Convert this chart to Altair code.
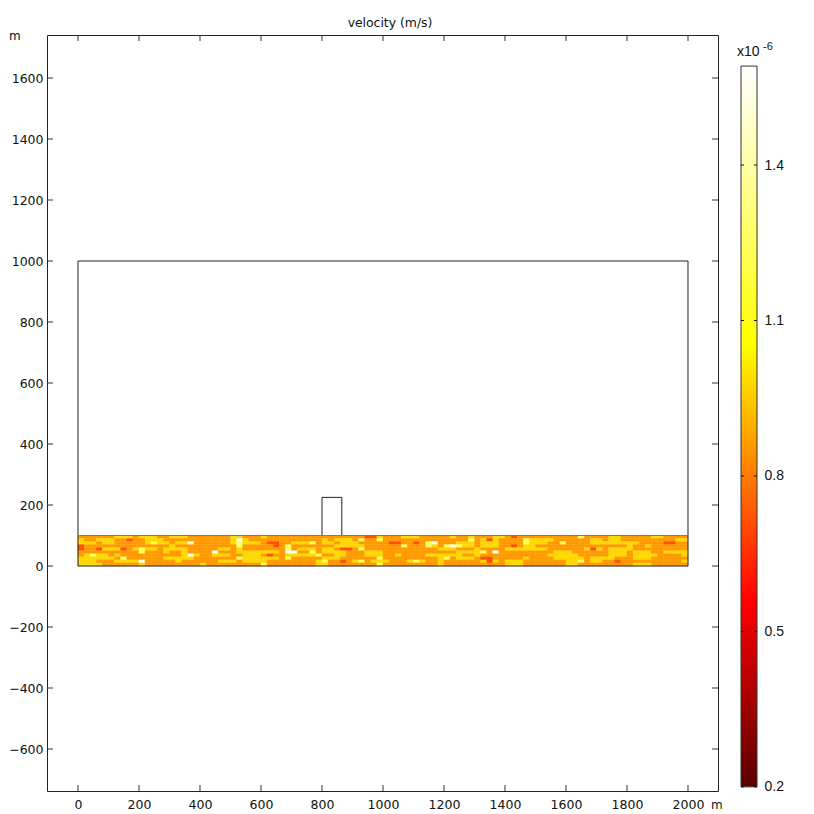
import altair as alt
import pandas as pd

X_TICKS = [0, 200, 400, 600, 800, 1000, 1200, 1400, 1600, 1800, 2000]
Y_TICKS = [-600, -400, -200, 0, 200, 400, 600, 800, 1000, 1200, 1400, 1600]
CB_TICKS = [0.2, 0.5, 0.8, 1.1, 1.4]
X_DOMAIN = [-101.6, 2098.4]
Y_DOMAIN = [-737.7, 1741]
CB_DOMAIN = [0.192, 1.651]
CB_RANGE = [0.2, 1.591]

STOP_VALUES = [0.2, 0.56, 1.053, 1.591]
STOP_COLORS = ["#5a0000", "#ff0000", "#ffff00", "#ffffff"]

LEVELS = {".": 0.856, "g": 0.978, "w": 1.25, "W": 1.55, "r": 0.71}
CELL_W = 20
CELL_H = 10

# top row first, 100 cells of 20 m, 10 rows of 10 m
BAND_ROWS = [
    "......ggg.ggg..ggg.." ".....gg...g........." ".......rrg...ggg...." ".g..g...gg.r........" "..w....gg.....gg....",
    "g..ggg..r..ggg......" ".....gWg............" "g.ggg.w..w.........." "....w.grg....wgggg.." "....gg.gg.........gg",
    "ggg.gg.....gwgg.ggW." ".....gwggg.rr..gggw." "gg.ggg.....rr..r.wW." "..ggg.ggg....wggg..w" "....gggggggg....rr..",
    "r..............g...." "......w.....r.w....." "..ggggg......w...wg." "wWwgg.ggg..r.gg....." "..........g..g......",
    "r..rgggr.gwgg.gggg.." "...gg.g.......w.ggg." "gg.rr.w............g" "gg...g....ggggggg..." "...grg.gggg.........",
    "..........w...g..g.." "..W...ggggggg.WW..w." "gggg...ggg.........." "..ggggw.W.........gg" "g......ggg.ggg..gggg",
    ".gwgg.g..........gWg" "..ggg..ggg.r..gggggw" "..gg...ggg..g....ggg" "ggg..g...........ggg" "gg.....ggg.gggg....g",
    "gggggg.w......ggggg." "......wgggggg.w....." "ggg......w.........g" "w.ggg.rr.....g....gg" "ggg.gggg...ggg......",
    "ggg...ggggW.....g..." "...ggg.gggg........g" "w..r.gw.ggg...gwg..g" "......grg.ggg......." "ggw.gg..r..........g",
    "gggg......g........." "g.........w........g" "g........w.........g" "..........ggg......." "gg.........ggg......",
]

cells = []
for r, row in enumerate(BAND_ROWS):
    for c, ch in enumerate(row):
        cells.append({"x0": c * CELL_W, "x1": (c + 1) * CELL_W,
                      "y0": 100 - r * CELL_H, "y1": 100 - (r + 1) * CELL_H, "v": LEVELS[ch]})
cells = pd.DataFrame(cells)

W, H = 671, 756
TICK = 6
INK = "#222222"
AXF = "DejaVu Sans"
CBF = "Liberation Sans"

xs = alt.Scale(domain=X_DOMAIN, nice=False, zero=False)
ys = alt.Scale(domain=Y_DOMAIN, nice=False, zero=False)
cs = alt.Scale(domain=STOP_VALUES, range=STOP_COLORS, interpolate="rgb")

band = alt.Chart(cells).mark_rect(strokeWidth=0.4).encode(
    x=alt.X("x0:Q", scale=xs, axis=alt.Axis(values=X_TICKS, grid=False, domain=False, ticks=False, tickSize=0,
                                            labelPadding=7, labelFontSize=12.5, labelFont=AXF, labelColor="#111",
                                            labelFlush=False, labelOverlap=False, title=None, format="d")),
    x2="x1:Q",
    y=alt.Y("y0:Q", scale=ys, axis=alt.Axis(values=Y_TICKS, grid=False, domain=False, ticks=False, tickSize=0,
                                            labelPadding=4, labelFontSize=12.5, labelFont=AXF, labelColor="#111",
                                            labelFlush=False, labelOverlap=False, title=None, format="d")),
    y2="y1:Q",
    color=alt.Color("v:Q", scale=cs, legend=None),
    stroke=alt.Stroke("v:Q", scale=cs, legend=None),
)

shapes = pd.DataFrame({"x0": [0, 800], "x1": [2000, 865], "y0": [0, 100], "y1": [1000, 225]})
outline = alt.Chart(shapes).mark_rect(fillOpacity=0, stroke=INK, strokeWidth=1).encode(
    x=alt.X("x0:Q", scale=xs), x2="x1:Q", y=alt.Y("y0:Q", scale=ys), y2="y1:Q")
seam = alt.Chart(pd.DataFrame({"x0": [0], "x1": [2000], "y0": [100]})).mark_rule(
    color="#8a7a70", strokeWidth=1
).encode(x=alt.X("x0:Q", scale=xs), x2="x1:Q", y=alt.Y("y0:Q", scale=ys))

yt = pd.DataFrame({"t": Y_TICKS})
xt = pd.DataFrame({"t": X_TICKS})
def ytick(a, b):
    return alt.Chart(yt).mark_rule(color="#333", strokeWidth=1).encode(
        y=alt.Y("t:Q", scale=ys), x=alt.value(a), x2=alt.value(b))
def xtick(a, b):
    return alt.Chart(xt).mark_rule(color="#333", strokeWidth=1).encode(
        x=alt.X("t:Q", scale=xs), y=alt.value(a), y2=alt.value(b))

def label(text, px, py, font=AXF, size=12.5, align="left"):
    return alt.Chart(pd.DataFrame({"s": [text]})).mark_text(
        font=font, fontSize=size, align=align, baseline="middle", color="#111"
    ).encode(x=alt.value(px), y=alt.value(py), text="s:N")

main = alt.layer(
    band, outline, seam,
    ytick(0, TICK), ytick(W - TICK, W), xtick(H, H - TICK), xtick(0, TICK),
    label("velocity (m/s)", 343, -12, size=12.4, align="center"),
    label("m", -38, 1, size=12),
    label("m", 664, 770, size=12),
).properties(width=W, height=H, view=alt.ViewBackground(stroke=INK, strokeWidth=1))

cby = alt.Scale(domain=CB_DOMAIN, nice=False, zero=False)
span = STOP_VALUES[-1] - STOP_VALUES[0]
grad = alt.Gradient(gradient="linear", x1=0, y1=1, x2=0, y2=0, stops=[
    alt.GradientStop(offset=(v - STOP_VALUES[0]) / span, color=c) for v, c in zip(STOP_VALUES, STOP_COLORS)])

bar = alt.Chart(pd.DataFrame({"a": [CB_RANGE[0]], "b": [CB_RANGE[1]]})).mark_rect(
    fill=grad, stroke="#333", strokeWidth=1
).encode(
    y=alt.Y("a:Q", scale=cby, axis=alt.Axis(orient="right", values=CB_TICKS, grid=False, domain=False, ticks=False,
                                            tickSize=0, labelPadding=7, labelFontSize=14, labelFont=CBF,
                                            labelColor="#111", labelFlush=False, labelOverlap=False,
                                            title=None, format=".1f")),
    y2="b:Q",
    x=alt.value(0), x2=alt.value(16),
)
cbt = pd.DataFrame({"t": CB_TICKS})
def cbtick(a, b):
    return alt.Chart(cbt).mark_rule(color="#111", strokeWidth=1).encode(
        y=alt.Y("t:Q", scale=cby), x=alt.value(a), x2=alt.value(b))

colorbar = alt.layer(
    bar, cbtick(0, 3), cbtick(13, 16),
    label("x10", -4, 17, font=CBF, size=14),
    label("-6", 22, 11.5, font=CBF, size=11),
).properties(width=16, height=H, view=alt.ViewBackground(stroke="transparent"))

chart = alt.hconcat(main, colorbar, spacing=12).properties(
    padding={"left": 0, "top": 8, "right": 0, "bottom": 0}
).resolve_scale(color="independent", stroke="independent", x="independent", y="independent")

chart.save("out.html", embed_options={"renderer": "svg", "actions": False})
